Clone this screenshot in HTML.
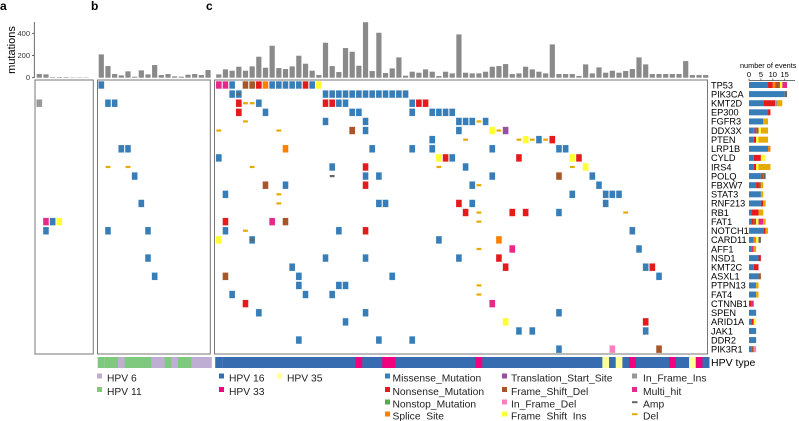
<!DOCTYPE html>
<html><head><meta charset="utf-8"><style>
body{margin:0;background:#fff;}
svg{display:block;font-family:"Liberation Sans",Arial,sans-serif;}
</style></head><body>
<svg id="chart" width="799" height="421" viewBox="0 0 799 421" xmlns="http://www.w3.org/2000/svg">
<text x="0" y="10" font-size="12" font-weight="bold">a</text>
<text x="91" y="10" font-size="12" font-weight="bold">b</text>
<text x="206" y="10" font-size="12" font-weight="bold">c</text>
<text transform="translate(15,50) rotate(-90)" text-anchor="middle" font-size="11">mutations</text>
<line x1="34.3" y1="22" x2="34.3" y2="78" stroke="#444" stroke-width="0.8"/>
<g id="yticks"></g>
<rect x="35" y="80" width="58.3" height="274" fill="none" stroke="#777" stroke-width="1"/>
<rect x="97.5" y="80" width="112.8" height="274" fill="none" stroke="#777" stroke-width="1"/>
<rect x="214.5" y="80" width="493" height="274" fill="none" stroke="#777" stroke-width="1"/>
<g id="bars"></g><g id="cells"></g><g id="genes"></g><g id="rbars"></g><g id="hpv"></g>
<text x="711" y="366" font-size="10.5">HPV type</text>
<text x="740" y="68" font-size="7.3">number of events</text>
<line x1="749" y1="80.5" x2="795" y2="80.5" stroke="#444" stroke-width="0.7"/>
<g id="eticks"></g>
<g id="legend" font-size="10.5"></g>
</svg>
<script>
const NS="http://www.w3.org/2000/svg";
const genes=["TP53","PIK3CA","KMT2D","EP300","FGFR3","DDX3X","PTEN","LRP1B","CYLD","IRS4","POLQ","FBXW7","STAT3","RNF213","RB1","FAT1","NOTCH1","CARD11","AFF1","NSD1","KMT2C","ASXL1","PTPN13","FAT4","CTNNB1","SPEN","ARID1A","JAK1","DDR2","PIK3R1"];
const burdenA=[33,30,5,5,5,3,3,3];
const burdenB=[210,105,33,21,57,9,66,30,114,24,33,12,9,27,33,24,69];
const burdenC=[30,75,63,99,63,102,189,90,288,87,78,102,198,126,63,24,315,105,51,267,234,108,500,60,405,42,84,183,18,54,45,75,54,15,54,39,390,45,39,39,54,99,105,123,33,39,99,75,54,39,300,33,33,33,15,120,39,93,45,63,45,60,78,183,120,33,33,33,33,33,150,24,24,24];
const hpvB=["11","11","11","6","11","11","11","11","6","6","11","6","11","11","6","6","6"];
const hpvC=["16","16","16","16","16","16","16","16","16","16","16","16","16","16","16","16","16","16","16","16","16","33","16","16","16","33","33","16","16","16","16","16","16","16","16","16","16","16","16","33","16","16","16","16","16","16","16","16","16","16","16","16","16","16","16","16","16","16","35","16","35","16","33","16","16","16","16","16","33","16","16","35","33","16"];
const cellsA=[[2,0,"II"],[15,1,"MH"],[15,2,"M"],[15,3,"FI"],[16,1,"M"]];
const cellsB=[[0,0,"M"],[2,1,"M"],[2,2,"M"],[7,3,"M"],[7,4,"M"],[9,1,"D"],[9,4,"D"],[10,5,"M"],[13,6,"M"],[16,1,"M"],[16,7,"M"],[19,7,"M"],[21,8,"M"]];
const cellsC=[
[0,0,"MH"],[0,1,"MH"],[0,2,"M"],[0,4,"FD"],[0,5,"FD"],[0,6,"N"],[0,7,"S"],[0,8,"M"],[0,9,"M"],[0,10,"M"],[0,11,"M"],[0,12,"M"],[0,13,"N"],[0,14,"M"],[0,15,"FI"],
[1,2,"M"],[1,3,"M"],[1,3,"A"],[1,16,"M"],[1,17,"M"],[1,18,"M"],[1,19,"M"],[1,20,"M"],[1,21,"M"],[1,22,"M"],[1,23,"M"],[1,24,"M"],[1,25,"M"],[1,26,"M"],[1,27,"M"],[1,28,"M"],
[2,3,"N"],[2,4,"D"],[2,5,"D"],[2,6,"M"],[2,16,"N"],[2,17,"N"],[2,18,"M"],[2,19,"M"],[2,29,"M"],[2,30,"N"],[2,31,"N"],
[3,3,"N"],[3,7,"M"],[3,20,"M"],[3,21,"M"],[3,29,"M"],[3,32,"M"],[3,33,"M"],[3,34,"M"],[3,35,"M"],
[4,4,"D"],[4,16,"M"],[4,22,"M"],[4,36,"M"],[4,37,"M"],[4,38,"M"],[4,39,"D"],[4,40,"M"],
[5,0,"D"],[5,9,"D"],[5,20,"FD"],[5,22,"M"],[5,36,"M"],[5,41,"FI"],[5,42,"D"],[5,43,"T"],
[6,32,"M"],[6,37,"D"],[6,45,"D"],[6,46,"FI"],[6,47,"D"],[6,48,"M"],[6,49,"D"],[6,50,"N"],
[7,10,"S"],[7,23,"M"],[7,29,"M"],[7,32,"M"],[7,41,"M"],[7,51,"M"],[7,52,"M"],
[8,0,"M"],[8,33,"FI"],[8,34,"N"],[8,35,"M"],[8,45,"N"],[8,53,"FI"],[8,54,"N"],
[9,5,"D"],[9,17,"M"],[9,22,"N"],[9,33,"D"],[9,37,"M"],[9,53,"D"],[9,55,"FI"],
[10,17,"A"],[10,22,"M"],[10,24,"M"],[10,41,"M"],[10,51,"FD"],[10,56,"M"],
[11,7,"FD"],[11,10,"M"],[11,22,"N"],[11,38,"M"],[11,39,"D"],[11,57,"M"],
[12,1,"M"],[12,9,"D"],[12,53,"M"],[12,58,"M"],[12,59,"M"],[12,60,"M"],
[13,9,"D"],[13,24,"M"],[13,25,"M"],[13,36,"N"],[13,38,"M"],[13,58,"M"],
[14,37,"N"],[14,39,"D"],[14,44,"N"],[14,46,"N"],[14,51,"M"],[14,61,"D"],
[15,1,"N"],[15,8,"MH"],[15,10,"FD"],[15,39,"D"],
[16,1,"M"],[16,4,"D"],[16,18,"M"],[16,22,"N"],[16,62,"M"],
[17,0,"FI"],[17,5,"M"],[17,5,"A"],[17,33,"M"],[17,42,"S"],
[18,39,"D"],[18,44,"MH"],[18,63,"M"],
[19,16,"M"],[19,22,"M"],[19,36,"M"],[19,42,"N"],
[20,11,"M"],[20,43,"N"],[20,64,"M"],[20,65,"N"],
[21,1,"FD"],[21,12,"M"],[21,26,"M"],[21,66,"M"],
[22,12,"M"],[22,18,"M"],[22,19,"M"],[22,39,"D"],
[23,2,"M"],[23,13,"M"],[23,17,"M"],[23,39,"D"],
[24,4,"N"],[24,41,"MH"],
[25,6,"M"],[25,22,"M"],[25,51,"M"],
[26,19,"M"],[26,43,"FI"],[26,64,"N"],
[27,45,"M"],[27,47,"M"],[27,64,"M"],
[28,12,"M"],[28,24,"M"],[28,29,"M"],
[29,51,"M"],[29,59,"ID"],[29,66,"FD"]];
const yTicks=[0,200,400];
const eTicks=[0,5,10,15];

const COL={M:"#377EB8",N:"#E41A1C",NS:"#4DAF4A",S:"#FF7F00",T:"#984EA3",FD:"#A65628",ID:"#F781BF",FI:"#FFFF33",II:"#999999",MH:"#E7298A",A:"#666666",D:"#E6AB02"};
const HCOL={"6":"#BEAED4","11":"#7FC97F","16":"#386CB0","33":"#F0027F","35":"#FFFF99"};
const PITCH=6.67, ROW=9.11, ROW0=85;
const X0={a:36,b:98,c:215.5};
const colX=(p,i)=>X0[p]+i*PITCH;
const rowY=r=>ROW0+r*ROW;
const barY=v=>77.7-v*0.111;
const evX=v=>749+v*2.38;
function mk(tag,attrs,parent){const e=document.createElementNS(NS,tag);for(const k in attrs)e.setAttribute(k,attrs[k]);parent.appendChild(e);return e;}
const G=id=>document.getElementById(id);

yTicks.forEach(t=>{
  const l=mk("line",{x1:32,x2:34.3,y1:barY(t),y2:barY(t),stroke:"#444","stroke-width":0.8},G("yticks"));
  
  
  const tx=mk("text",{x:30,y:barY(t)+2.5,"text-anchor":"end","font-size":7.5,fill:"#333"},G("yticks"));
  tx.textContent=t;
  
  
});
[["a",burdenA],["b",burdenB],["c",burdenC]].forEach(([p,arr])=>{
  arr.forEach((v,i)=>{
    const r=mk("rect",{x:colX(p,i)+0.7,y:barY(v),width:5.2,height:77.7-barY(v),fill:"#8a8a8a"},G("bars"));
    
    
  });
});
const counts=genes.map(()=>({}));
function drawCell(p,c){
  const [r,i,t]=c;const x=colX(p,i),y=rowY(r);
  counts[r][t]=(counts[r][t]||0)+1;
  let e;
  if(t==="A"||t==="D"){
    e=mk("rect",{x:x+0.9,y:y-1.1,width:4.8,height:2.2,fill:COL[t]},G("cells"));
  }else{
    e=mk("rect",{x:x+0.4,y:y-3.8,width:5.8,height:7.6,fill:COL[t],stroke:"#fff","stroke-width":0.3,"stroke-opacity":0.6},G("cells"));
  }
  
  
}
cellsA.forEach(c=>drawCell("a",c));
cellsB.forEach(c=>drawCell("b",c));
cellsC.forEach(c=>drawCell("c",c));
const order=["M","N","NS","S","T","FD","ID","FI","II","MH","A","D"];
genes.forEach((g,r)=>{
  const t=mk("text",{x:711,y:rowY(r)+3.3,"font-size":9.2},G("genes"));
  t.textContent=g;
  
  
  let acc=0;
  order.forEach(k=>{const n=counts[r][k]||0;if(!n)return;
    const b=mk("rect",{x:evX(acc),y:rowY(r)-3,width:evX(acc+n)-evX(acc),height:6,fill:COL[k]},G("rbars"));
    
    
    acc+=n;});
});
eTicks.forEach(t=>{
  const l=mk("line",{x1:evX(t),x2:evX(t),y1:78.5,y2:80.5,stroke:"#444","stroke-width":0.7},G("eticks"));
  
  
  const tx=mk("text",{x:evX(t),y:77,"text-anchor":"middle","font-size":7.5},G("eticks"));
  tx.textContent=t;
  
  
});
[["b",hpvB],["c",hpvC]].forEach(([p,arr])=>{
  arr.forEach((h,i)=>{
    const r=mk("rect",{x:colX(p,i)-(i===0?0.3:0),y:357,width:PITCH+0.4,height:11,fill:HCOL[h]},G("hpv"));
    
    
  });
});
const legend=[
 [97,378,HCOL["6"],"HPV 6","sq"],[97,391.5,HCOL["11"],"HPV 11","sq"],
 [219,378,HCOL["16"],"HPV 16","sq"],[219,391.5,HCOL["33"],"HPV 33","sq"],[277,378,HCOL["35"],"HPV 35","sq"],
 [385,378,COL.M,"Missense_Mutation","sq"],[385,391.5,COL.N,"Nonsense_Mutation","sq"],[385,404,COL.NS,"Nonstop_Mutation","sq"],[385,416,COL.S,"Splice_Site","sq"],
 [502,378,COL.T,"Translation_Start_Site","sq"],[502,391.5,COL.FD,"Frame_Shift_Del","sq"],[502,404,COL.ID,"In_Frame_Del","sq"],[502,416,COL.FI,"Frame_Shift_Ins","sq"],
 [632,378,COL.II,"In_Frame_Ins","sq"],[632,391.5,COL.MH,"Multi_hit","sq"],[632,404,COL.A,"Amp","dash"],[632,416,COL.D,"Del","dash"]];
legend.forEach(([x,y,c,label,kind])=>{
  const g=mk("g",{},G("legend"));
  
  
  if(kind==="sq")mk("rect",{x:x,y:y-4.5,width:5,height:5,fill:c},g);
  else mk("rect",{x:x,y:y-2.8,width:5.5,height:2,fill:c},g);
  const t=mk("text",{x:x+(x>=632?11:(x>=502?9:(x>=385?7.5:10))),y:y+3.5,"font-size":10.3,fill:"#222"},g);
  t.textContent=label;
});
</script>
</body></html>
